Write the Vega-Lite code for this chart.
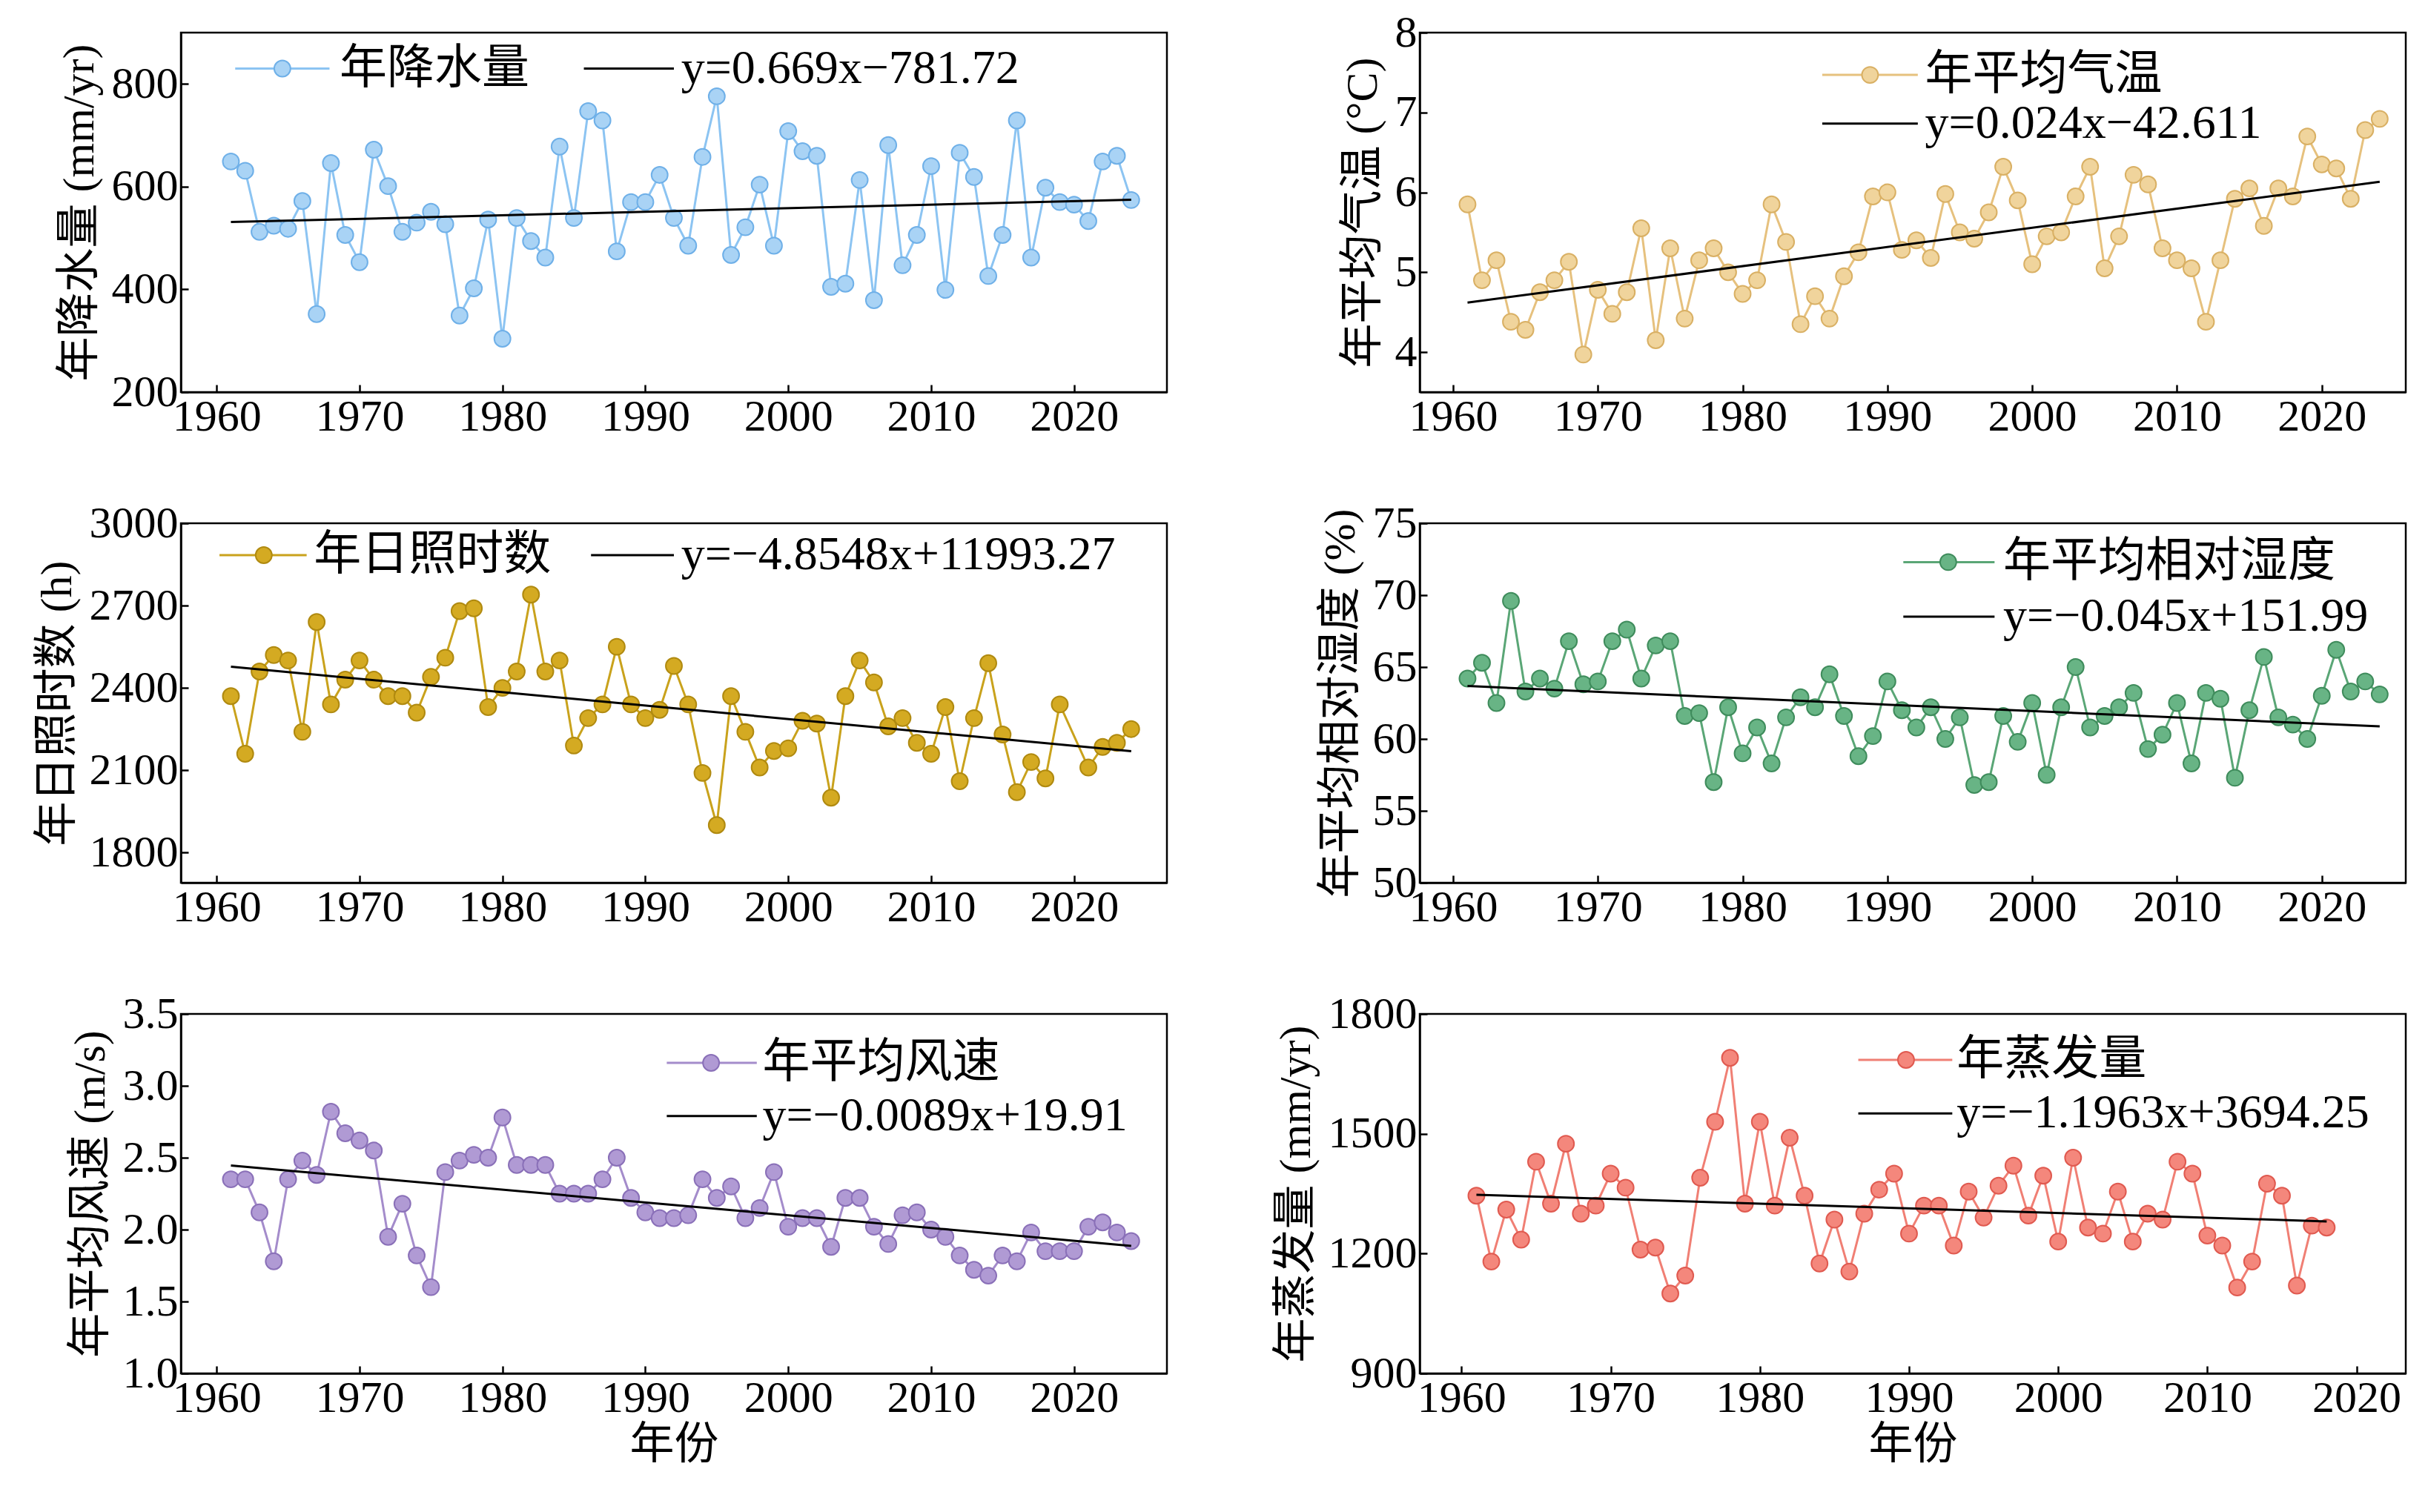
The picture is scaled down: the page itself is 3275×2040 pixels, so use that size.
{"$schema":"https://vega.github.io/schema/vega-lite/v6.json","background":"white","padding":{"left":45,"top":12,"right":5,"bottom":5},
"config":{"font":"Liberation Serif, Noto Sans CJK SC","view":{"stroke":"black","strokeWidth":2.5},
"axis":{"grid":false,"labelFontSize":60,"titleFontSize":60,"titleFontWeight":"normal","labelColor":"black","titleColor":"black","domainColor":"black","tickColor":"black","domainWidth":2.5,"tickWidth":2.5,"tickSize":-10,"labelPadding":14,"titlePadding":12,"titleFont":"Liberation Serif, Noto Sans CJK SC"},
"text":{"fontSize":64,"font":"Liberation Serif, Noto Sans CJK SC"}},
"spacing":{"row":80,"column":140},
"datasets":{
"p1":[{"year":1961,"value":649},{"year":1962,"value":631},{"year":1963,"value":512},{"year":1964,"value":524},{"year":1965,"value":518},{"year":1966,"value":572},{"year":1967,"value":352},{"year":1968,"value":646},{"year":1969,"value":506},{"year":1970,"value":453},{"year":1971,"value":672},{"year":1972,"value":601},{"year":1973,"value":512},{"year":1974,"value":530},{"year":1975,"value":551},{"year":1976,"value":527},{"year":1977,"value":349},{"year":1978,"value":402},{"year":1979,"value":536},{"year":1980,"value":304},{"year":1981,"value":539},{"year":1982,"value":494},{"year":1983,"value":462},{"year":1984,"value":678},{"year":1985,"value":539},{"year":1986,"value":747},{"year":1987,"value":729},{"year":1988,"value":474},{"year":1989,"value":570},{"year":1990,"value":570},{"year":1991,"value":623},{"year":1992,"value":539},{"year":1993,"value":485},{"year":1994,"value":658},{"year":1995,"value":776},{"year":1996,"value":467},{"year":1997,"value":521},{"year":1998,"value":604},{"year":1999,"value":485},{"year":2000,"value":708},{"year":2001,"value":669},{"year":2002,"value":660},{"year":2003,"value":405},{"year":2004,"value":411},{"year":2005,"value":613},{"year":2006,"value":379},{"year":2007,"value":681},{"year":2008,"value":447},{"year":2009,"value":506},{"year":2010,"value":640},{"year":2011,"value":399},{"year":2012,"value":666},{"year":2013,"value":619},{"year":2014,"value":426},{"year":2015,"value":506},{"year":2016,"value":729},{"year":2017,"value":462},{"year":2018,"value":598},{"year":2019,"value":570},{"year":2020,"value":565},{"year":2021,"value":533},{"year":2022,"value":649},{"year":2023,"value":660},{"year":2024,"value":574}],
"p2":[{"year":1961,"value":5.85},{"year":1962,"value":4.9},{"year":1963,"value":5.15},{"year":1964,"value":4.38},{"year":1965,"value":4.28},{"year":1966,"value":4.75},{"year":1967,"value":4.9},{"year":1968,"value":5.13},{"year":1969,"value":3.97},{"year":1970,"value":4.78},{"year":1971,"value":4.48},{"year":1972,"value":4.75},{"year":1973,"value":5.55},{"year":1974,"value":4.15},{"year":1975,"value":5.3},{"year":1976,"value":4.42},{"year":1977,"value":5.15},{"year":1978,"value":5.3},{"year":1979,"value":5.0},{"year":1980,"value":4.73},{"year":1981,"value":4.9},{"year":1982,"value":5.85},{"year":1983,"value":5.38},{"year":1984,"value":4.35},{"year":1985,"value":4.7},{"year":1986,"value":4.42},{"year":1987,"value":4.95},{"year":1988,"value":5.25},{"year":1989,"value":5.95},{"year":1990,"value":6.0},{"year":1991,"value":5.28},{"year":1992,"value":5.4},{"year":1993,"value":5.18},{"year":1994,"value":5.98},{"year":1995,"value":5.5},{"year":1996,"value":5.42},{"year":1997,"value":5.75},{"year":1998,"value":6.32},{"year":1999,"value":5.9},{"year":2000,"value":5.1},{"year":2001,"value":5.45},{"year":2002,"value":5.5},{"year":2003,"value":5.95},{"year":2004,"value":6.32},{"year":2005,"value":5.05},{"year":2006,"value":5.45},{"year":2007,"value":6.22},{"year":2008,"value":6.1},{"year":2009,"value":5.3},{"year":2010,"value":5.15},{"year":2011,"value":5.05},{"year":2012,"value":4.38},{"year":2013,"value":5.15},{"year":2014,"value":5.92},{"year":2015,"value":6.05},{"year":2016,"value":5.58},{"year":2017,"value":6.05},{"year":2018,"value":5.95},{"year":2019,"value":6.7},{"year":2020,"value":6.35},{"year":2021,"value":6.3},{"year":2022,"value":5.92},{"year":2023,"value":6.78},{"year":2024,"value":6.92}],
"p3":[{"year":1961,"value":2370},{"year":1962,"value":2160},{"year":1963,"value":2460},{"year":1964,"value":2520},{"year":1965,"value":2500},{"year":1966,"value":2240},{"year":1967,"value":2640},{"year":1968,"value":2340},{"year":1969,"value":2430},{"year":1970,"value":2500},{"year":1971,"value":2430},{"year":1972,"value":2370},{"year":1973,"value":2370},{"year":1974,"value":2310},{"year":1975,"value":2440},{"year":1976,"value":2510},{"year":1977,"value":2680},{"year":1978,"value":2690},{"year":1979,"value":2330},{"year":1980,"value":2400},{"year":1981,"value":2460},{"year":1982,"value":2740},{"year":1983,"value":2460},{"year":1984,"value":2500},{"year":1985,"value":2190},{"year":1986,"value":2290},{"year":1987,"value":2340},{"year":1988,"value":2550},{"year":1989,"value":2340},{"year":1990,"value":2290},{"year":1991,"value":2320},{"year":1992,"value":2480},{"year":1993,"value":2340},{"year":1994,"value":2090},{"year":1995,"value":1900},{"year":1996,"value":2370},{"year":1997,"value":2240},{"year":1998,"value":2110},{"year":1999,"value":2170},{"year":2000,"value":2180},{"year":2001,"value":2280},{"year":2002,"value":2270},{"year":2003,"value":2000},{"year":2004,"value":2370},{"year":2005,"value":2500},{"year":2006,"value":2420},{"year":2007,"value":2260},{"year":2008,"value":2290},{"year":2009,"value":2200},{"year":2010,"value":2160},{"year":2011,"value":2330},{"year":2012,"value":2060},{"year":2013,"value":2290},{"year":2014,"value":2490},{"year":2015,"value":2230},{"year":2016,"value":2020},{"year":2017,"value":2130},{"year":2018,"value":2070},{"year":2019,"value":2340},{"year":2021,"value":2110},{"year":2022,"value":2185},{"year":2023,"value":2200},{"year":2024,"value":2250}],
"p4":[{"year":1961,"value":64.2},{"year":1962,"value":65.3},{"year":1963,"value":62.5},{"year":1964,"value":69.6},{"year":1965,"value":63.3},{"year":1966,"value":64.2},{"year":1967,"value":63.5},{"year":1968,"value":66.8},{"year":1969,"value":63.8},{"year":1970,"value":64.0},{"year":1971,"value":66.8},{"year":1972,"value":67.6},{"year":1973,"value":64.2},{"year":1974,"value":66.5},{"year":1975,"value":66.8},{"year":1976,"value":61.6},{"year":1977,"value":61.8},{"year":1978,"value":57.0},{"year":1979,"value":62.2},{"year":1980,"value":59.0},{"year":1981,"value":60.8},{"year":1982,"value":58.3},{"year":1983,"value":61.5},{"year":1984,"value":62.9},{"year":1985,"value":62.2},{"year":1986,"value":64.5},{"year":1987,"value":61.6},{"year":1988,"value":58.8},{"year":1989,"value":60.2},{"year":1990,"value":64.0},{"year":1991,"value":62.0},{"year":1992,"value":60.8},{"year":1993,"value":62.2},{"year":1994,"value":60.0},{"year":1995,"value":61.5},{"year":1996,"value":56.8},{"year":1997,"value":57.0},{"year":1998,"value":61.6},{"year":1999,"value":59.8},{"year":2000,"value":62.5},{"year":2001,"value":57.5},{"year":2002,"value":62.2},{"year":2003,"value":65.0},{"year":2004,"value":60.8},{"year":2005,"value":61.6},{"year":2006,"value":62.2},{"year":2007,"value":63.2},{"year":2008,"value":59.3},{"year":2009,"value":60.3},{"year":2010,"value":62.5},{"year":2011,"value":58.3},{"year":2012,"value":63.2},{"year":2013,"value":62.8},{"year":2014,"value":57.3},{"year":2015,"value":62.0},{"year":2016,"value":65.7},{"year":2017,"value":61.5},{"year":2018,"value":61.0},{"year":2019,"value":60.0},{"year":2020,"value":63.0},{"year":2021,"value":66.2},{"year":2022,"value":63.3},{"year":2023,"value":64.0},{"year":2024,"value":63.1}],
"p5":[{"year":1961,"value":2.35},{"year":1962,"value":2.35},{"year":1963,"value":2.12},{"year":1964,"value":1.78},{"year":1965,"value":2.35},{"year":1966,"value":2.48},{"year":1967,"value":2.38},{"year":1968,"value":2.82},{"year":1969,"value":2.67},{"year":1970,"value":2.62},{"year":1971,"value":2.55},{"year":1972,"value":1.95},{"year":1973,"value":2.18},{"year":1974,"value":1.82},{"year":1975,"value":1.6},{"year":1976,"value":2.4},{"year":1977,"value":2.48},{"year":1978,"value":2.52},{"year":1979,"value":2.5},{"year":1980,"value":2.78},{"year":1981,"value":2.45},{"year":1982,"value":2.45},{"year":1983,"value":2.45},{"year":1984,"value":2.25},{"year":1985,"value":2.25},{"year":1986,"value":2.25},{"year":1987,"value":2.35},{"year":1988,"value":2.5},{"year":1989,"value":2.22},{"year":1990,"value":2.12},{"year":1991,"value":2.08},{"year":1992,"value":2.08},{"year":1993,"value":2.1},{"year":1994,"value":2.35},{"year":1995,"value":2.22},{"year":1996,"value":2.3},{"year":1997,"value":2.08},{"year":1998,"value":2.15},{"year":1999,"value":2.4},{"year":2000,"value":2.02},{"year":2001,"value":2.08},{"year":2002,"value":2.08},{"year":2003,"value":1.88},{"year":2004,"value":2.22},{"year":2005,"value":2.22},{"year":2006,"value":2.02},{"year":2007,"value":1.9},{"year":2008,"value":2.1},{"year":2009,"value":2.12},{"year":2010,"value":2.0},{"year":2011,"value":1.95},{"year":2012,"value":1.82},{"year":2013,"value":1.72},{"year":2014,"value":1.68},{"year":2015,"value":1.82},{"year":2016,"value":1.78},{"year":2017,"value":1.98},{"year":2018,"value":1.85},{"year":2019,"value":1.85},{"year":2020,"value":1.85},{"year":2021,"value":2.02},{"year":2022,"value":2.05},{"year":2023,"value":1.98},{"year":2024,"value":1.92}],
"p6":[{"year":1961,"value":1345},{"year":1962,"value":1180},{"year":1963,"value":1310},{"year":1964,"value":1235},{"year":1965,"value":1430},{"year":1966,"value":1325},{"year":1967,"value":1475},{"year":1968,"value":1300},{"year":1969,"value":1320},{"year":1970,"value":1400},{"year":1971,"value":1365},{"year":1972,"value":1210},{"year":1973,"value":1215},{"year":1974,"value":1100},{"year":1975,"value":1145},{"year":1976,"value":1390},{"year":1977,"value":1530},{"year":1978,"value":1690},{"year":1979,"value":1325},{"year":1980,"value":1530},{"year":1981,"value":1320},{"year":1982,"value":1490},{"year":1983,"value":1345},{"year":1984,"value":1175},{"year":1985,"value":1285},{"year":1986,"value":1155},{"year":1987,"value":1300},{"year":1988,"value":1360},{"year":1989,"value":1400},{"year":1990,"value":1250},{"year":1991,"value":1320},{"year":1992,"value":1320},{"year":1993,"value":1220},{"year":1994,"value":1355},{"year":1995,"value":1290},{"year":1996,"value":1370},{"year":1997,"value":1420},{"year":1998,"value":1295},{"year":1999,"value":1395},{"year":2000,"value":1230},{"year":2001,"value":1440},{"year":2002,"value":1265},{"year":2003,"value":1250},{"year":2004,"value":1355},{"year":2005,"value":1230},{"year":2006,"value":1300},{"year":2007,"value":1285},{"year":2008,"value":1430},{"year":2009,"value":1400},{"year":2010,"value":1245},{"year":2011,"value":1220},{"year":2012,"value":1115},{"year":2013,"value":1180},{"year":2014,"value":1375},{"year":2015,"value":1345},{"year":2016,"value":1120},{"year":2017,"value":1270},{"year":2018,"value":1265}],
"l1":[{"x":1961.3,"x2":1967.9,"px":1964.6,"tx":1968.6,"y":830,"kind":"s","label":"年降水量"},{"x":1985.7,"x2":1992,"tx":1992.5,"y":830,"kind":"r","label":"y=0.669x−781.72"}],
"l2":[{"x":1985.5,"x2":1992.1,"px":1988.8,"tx":1992.6,"y":7.47,"kind":"s","label":"年平均气温"},{"x":1985.5,"x2":1992.1,"tx":1992.6,"y":6.86,"kind":"r","label":"y=0.024x−42.611"}],
"l3":[{"x":1960.2,"x2":1966.3,"px":1963.3,"tx":1966.8,"y":2884,"kind":"s","label":"年日照时数"},{"x":1986.2,"x2":1992,"tx":1992.5,"y":2884,"kind":"r","label":"y=−4.8548x+11993.27"}],
"l4":[{"x":1991.1,"x2":1997.4,"px":1994.2,"tx":1998,"y":72.3,"kind":"s","label":"年平均相对湿度"},{"x":1991.1,"x2":1997.4,"tx":1998,"y":68.5,"kind":"r","label":"y=−0.045x+151.99"}],
"l5":[{"x":1991.5,"x2":1997.8,"px":1994.6,"tx":1998.2,"y":3.16,"kind":"s","label":"年平均风速"},{"x":1991.5,"x2":1997.8,"tx":1998.2,"y":2.79,"kind":"r","label":"y=−0.0089x+19.91"}],
"l6":[{"x":1986.6,"x2":1992.9,"px":1989.8,"tx":1993.2,"y":1685,"kind":"s","label":"年蒸发量"},{"x":1986.6,"x2":1992.9,"tx":1993.2,"y":1551,"kind":"r","label":"y=−1.1963x+3694.25"}]
},
"columns":2,
"concat":[
{"width":1330,"height":485,"layer":[
{"data":{"name":"p1"},"mark":{"type":"line","color":"#8cc4f2","strokeWidth":3},"encoding":{"x":{"field":"year","type":"quantitative","title":null,"scale":{"domain":[1957.5,2026.5],"nice":false},"axis":{"values":[1960,1970,1980,1990,2000,2010,2020],"format":"d"}},"y":{"field":"value","type":"quantitative","title":"年降水量 (mm/yr)","scale":{"domain":[200,900],"nice":false},"axis":{"values":[200,400,600,800],"format":"d"}}}},
{"data":{"name":"p1"},"mark":{"type":"point","filled":true,"fill":"#a9d3f5","stroke":"#6fb0e8","strokeWidth":2,"opacity":1,"size":480},"encoding":{"x":{"field":"year","type":"quantitative","title":null},"y":{"field":"value","type":"quantitative","title":"年降水量 (mm/yr)"}}},
{"data":{"name":"p1"},"transform":[{"regression":"value","on":"year"}],"mark":{"type":"line","color":"black","strokeWidth":3},"encoding":{"x":{"field":"year","type":"quantitative","title":null},"y":{"field":"value","type":"quantitative","title":"年降水量 (mm/yr)"}}},
{"data":{"name":"l1"},"transform":[{"filter":"datum.kind=='s'"}],"mark":{"type":"rule","color":"#8cc4f2","strokeWidth":3},"encoding":{"x":{"field":"x","type":"quantitative","title":null},"x2":{"field":"x2"},"y":{"field":"y","type":"quantitative","title":"年降水量 (mm/yr)"}}},
{"data":{"name":"l1"},"transform":[{"filter":"datum.kind=='s'"}],"mark":{"type":"point","filled":true,"fill":"#a9d3f5","stroke":"#6fb0e8","strokeWidth":2,"opacity":1,"size":480},"encoding":{"x":{"field":"px","type":"quantitative","title":null},"y":{"field":"y","type":"quantitative","title":"年降水量 (mm/yr)"}}},
{"data":{"name":"l1"},"transform":[{"filter":"datum.kind=='r'"}],"mark":{"type":"rule","color":"black","strokeWidth":3},"encoding":{"x":{"field":"x","type":"quantitative","title":null},"x2":{"field":"x2"},"y":{"field":"y","type":"quantitative","title":"年降水量 (mm/yr)"}}},
{"data":{"name":"l1"},"mark":{"type":"text","align":"left","baseline":"middle"},"encoding":{"x":{"field":"tx","type":"quantitative","title":null},"y":{"field":"y","type":"quantitative","title":"年降水量 (mm/yr)"},"text":{"field":"label"}}}
]},
{"width":1330,"height":485,"layer":[
{"data":{"name":"p2"},"mark":{"type":"line","color":"#e6c17e","strokeWidth":3},"encoding":{"x":{"field":"year","type":"quantitative","title":null,"scale":{"domain":[1957.7,2025.8],"nice":false},"axis":{"values":[1960,1970,1980,1990,2000,2010,2020],"format":"d"}},"y":{"field":"value","type":"quantitative","title":"年平均气温 (°C)","scale":{"domain":[3.5,8],"nice":false},"axis":{"values":[4,5,6,7,8],"format":"d"}}}},
{"data":{"name":"p2"},"mark":{"type":"point","filled":true,"fill":"#f0d49c","stroke":"#d9b064","strokeWidth":2,"opacity":1,"size":480},"encoding":{"x":{"field":"year","type":"quantitative","title":null},"y":{"field":"value","type":"quantitative","title":"年平均气温 (°C)"}}},
{"data":{"name":"p2"},"transform":[{"regression":"value","on":"year"}],"mark":{"type":"line","color":"black","strokeWidth":3},"encoding":{"x":{"field":"year","type":"quantitative","title":null},"y":{"field":"value","type":"quantitative","title":"年平均气温 (°C)"}}},
{"data":{"name":"l2"},"transform":[{"filter":"datum.kind=='s'"}],"mark":{"type":"rule","color":"#e6c17e","strokeWidth":3},"encoding":{"x":{"field":"x","type":"quantitative","title":null},"x2":{"field":"x2"},"y":{"field":"y","type":"quantitative","title":"年平均气温 (°C)"}}},
{"data":{"name":"l2"},"transform":[{"filter":"datum.kind=='s'"}],"mark":{"type":"point","filled":true,"fill":"#f0d49c","stroke":"#d9b064","strokeWidth":2,"opacity":1,"size":480},"encoding":{"x":{"field":"px","type":"quantitative","title":null},"y":{"field":"y","type":"quantitative","title":"年平均气温 (°C)"}}},
{"data":{"name":"l2"},"transform":[{"filter":"datum.kind=='r'"}],"mark":{"type":"rule","color":"black","strokeWidth":3},"encoding":{"x":{"field":"x","type":"quantitative","title":null},"x2":{"field":"x2"},"y":{"field":"y","type":"quantitative","title":"年平均气温 (°C)"}}},
{"data":{"name":"l2"},"mark":{"type":"text","align":"left","baseline":"middle"},"encoding":{"x":{"field":"tx","type":"quantitative","title":null},"y":{"field":"y","type":"quantitative","title":"年平均气温 (°C)"},"text":{"field":"label"}}}
]},
{"width":1330,"height":485,"layer":[
{"data":{"name":"p3"},"mark":{"type":"line","color":"#c9a21c","strokeWidth":3},"encoding":{"x":{"field":"year","type":"quantitative","title":null,"scale":{"domain":[1957.5,2026.5],"nice":false},"axis":{"values":[1960,1970,1980,1990,2000,2010,2020],"format":"d"}},"y":{"field":"value","type":"quantitative","title":"年日照时数 (h)","scale":{"domain":[1690,3000],"nice":false},"axis":{"values":[1800,2100,2400,2700,3000],"format":"d"}}}},
{"data":{"name":"p3"},"mark":{"type":"point","filled":true,"fill":"#d4aa22","stroke":"#b08a10","strokeWidth":2,"opacity":1,"size":480},"encoding":{"x":{"field":"year","type":"quantitative","title":null},"y":{"field":"value","type":"quantitative","title":"年日照时数 (h)"}}},
{"data":{"name":"p3"},"transform":[{"regression":"value","on":"year"}],"mark":{"type":"line","color":"black","strokeWidth":3},"encoding":{"x":{"field":"year","type":"quantitative","title":null},"y":{"field":"value","type":"quantitative","title":"年日照时数 (h)"}}},
{"data":{"name":"l3"},"transform":[{"filter":"datum.kind=='s'"}],"mark":{"type":"rule","color":"#c9a21c","strokeWidth":3},"encoding":{"x":{"field":"x","type":"quantitative","title":null},"x2":{"field":"x2"},"y":{"field":"y","type":"quantitative","title":"年日照时数 (h)"}}},
{"data":{"name":"l3"},"transform":[{"filter":"datum.kind=='s'"}],"mark":{"type":"point","filled":true,"fill":"#d4aa22","stroke":"#b08a10","strokeWidth":2,"opacity":1,"size":480},"encoding":{"x":{"field":"px","type":"quantitative","title":null},"y":{"field":"y","type":"quantitative","title":"年日照时数 (h)"}}},
{"data":{"name":"l3"},"transform":[{"filter":"datum.kind=='r'"}],"mark":{"type":"rule","color":"black","strokeWidth":3},"encoding":{"x":{"field":"x","type":"quantitative","title":null},"x2":{"field":"x2"},"y":{"field":"y","type":"quantitative","title":"年日照时数 (h)"}}},
{"data":{"name":"l3"},"mark":{"type":"text","align":"left","baseline":"middle"},"encoding":{"x":{"field":"tx","type":"quantitative","title":null},"y":{"field":"y","type":"quantitative","title":"年日照时数 (h)"},"text":{"field":"label"}}}
]},
{"width":1330,"height":485,"layer":[
{"data":{"name":"p4"},"mark":{"type":"line","color":"#5aa676","strokeWidth":3},"encoding":{"x":{"field":"year","type":"quantitative","title":null,"scale":{"domain":[1957.7,2025.8],"nice":false},"axis":{"values":[1960,1970,1980,1990,2000,2010,2020],"format":"d"}},"y":{"field":"value","type":"quantitative","title":"年平均相对湿度 (%)","scale":{"domain":[50,75],"nice":false},"axis":{"values":[50,55,60,65,70,75],"format":"d"}}}},
{"data":{"name":"p4"},"mark":{"type":"point","filled":true,"fill":"#68b485","stroke":"#3f8c5c","strokeWidth":2,"opacity":1,"size":480},"encoding":{"x":{"field":"year","type":"quantitative","title":null},"y":{"field":"value","type":"quantitative","title":"年平均相对湿度 (%)"}}},
{"data":{"name":"p4"},"transform":[{"regression":"value","on":"year"}],"mark":{"type":"line","color":"black","strokeWidth":3},"encoding":{"x":{"field":"year","type":"quantitative","title":null},"y":{"field":"value","type":"quantitative","title":"年平均相对湿度 (%)"}}},
{"data":{"name":"l4"},"transform":[{"filter":"datum.kind=='s'"}],"mark":{"type":"rule","color":"#5aa676","strokeWidth":3},"encoding":{"x":{"field":"x","type":"quantitative","title":null},"x2":{"field":"x2"},"y":{"field":"y","type":"quantitative","title":"年平均相对湿度 (%)"}}},
{"data":{"name":"l4"},"transform":[{"filter":"datum.kind=='s'"}],"mark":{"type":"point","filled":true,"fill":"#68b485","stroke":"#3f8c5c","strokeWidth":2,"opacity":1,"size":480},"encoding":{"x":{"field":"px","type":"quantitative","title":null},"y":{"field":"y","type":"quantitative","title":"年平均相对湿度 (%)"}}},
{"data":{"name":"l4"},"transform":[{"filter":"datum.kind=='r'"}],"mark":{"type":"rule","color":"black","strokeWidth":3},"encoding":{"x":{"field":"x","type":"quantitative","title":null},"x2":{"field":"x2"},"y":{"field":"y","type":"quantitative","title":"年平均相对湿度 (%)"}}},
{"data":{"name":"l4"},"mark":{"type":"text","align":"left","baseline":"middle"},"encoding":{"x":{"field":"tx","type":"quantitative","title":null},"y":{"field":"y","type":"quantitative","title":"年平均相对湿度 (%)"},"text":{"field":"label"}}}
]},
{"width":1330,"height":485,"layer":[
{"data":{"name":"p5"},"mark":{"type":"line","color":"#a48ccb","strokeWidth":3},"encoding":{"x":{"field":"year","type":"quantitative","title":"年份","scale":{"domain":[1957.5,2026.5],"nice":false},"axis":{"values":[1960,1970,1980,1990,2000,2010,2020],"format":"d","titlePadding":4}},"y":{"field":"value","type":"quantitative","title":"年平均风速 (m/s)","scale":{"domain":[1,3.5],"nice":false},"axis":{"values":[1,1.5,2,2.5,3,3.5],"format":".1f"}}}},
{"data":{"name":"p5"},"mark":{"type":"point","filled":true,"fill":"#b09ad4","stroke":"#8a70b8","strokeWidth":2,"opacity":1,"size":480},"encoding":{"x":{"field":"year","type":"quantitative","title":"年份"},"y":{"field":"value","type":"quantitative","title":"年平均风速 (m/s)"}}},
{"data":{"name":"p5"},"transform":[{"regression":"value","on":"year"}],"mark":{"type":"line","color":"black","strokeWidth":3},"encoding":{"x":{"field":"year","type":"quantitative","title":"年份"},"y":{"field":"value","type":"quantitative","title":"年平均风速 (m/s)"}}},
{"data":{"name":"l5"},"transform":[{"filter":"datum.kind=='s'"}],"mark":{"type":"rule","color":"#a48ccb","strokeWidth":3},"encoding":{"x":{"field":"x","type":"quantitative","title":"年份"},"x2":{"field":"x2"},"y":{"field":"y","type":"quantitative","title":"年平均风速 (m/s)"}}},
{"data":{"name":"l5"},"transform":[{"filter":"datum.kind=='s'"}],"mark":{"type":"point","filled":true,"fill":"#b09ad4","stroke":"#8a70b8","strokeWidth":2,"opacity":1,"size":480},"encoding":{"x":{"field":"px","type":"quantitative","title":"年份"},"y":{"field":"y","type":"quantitative","title":"年平均风速 (m/s)"}}},
{"data":{"name":"l5"},"transform":[{"filter":"datum.kind=='r'"}],"mark":{"type":"rule","color":"black","strokeWidth":3},"encoding":{"x":{"field":"x","type":"quantitative","title":"年份"},"x2":{"field":"x2"},"y":{"field":"y","type":"quantitative","title":"年平均风速 (m/s)"}}},
{"data":{"name":"l5"},"mark":{"type":"text","align":"left","baseline":"middle"},"encoding":{"x":{"field":"tx","type":"quantitative","title":"年份"},"y":{"field":"y","type":"quantitative","title":"年平均风速 (m/s)"},"text":{"field":"label"}}}
]},
{"width":1330,"height":485,"layer":[
{"data":{"name":"p6"},"mark":{"type":"line","color":"#f07f74","strokeWidth":3},"encoding":{"x":{"field":"year","type":"quantitative","title":"年份","scale":{"domain":[1957.2,2023.3],"nice":false},"axis":{"values":[1960,1970,1980,1990,2000,2010,2020],"format":"d","titlePadding":4}},"y":{"field":"value","type":"quantitative","title":"年蒸发量 (mm/yr)","scale":{"domain":[900,1800],"nice":false},"axis":{"values":[900,1200,1500,1800],"format":"d"}}}},
{"data":{"name":"p6"},"mark":{"type":"point","filled":true,"fill":"#f4877c","stroke":"#e05a50","strokeWidth":2,"opacity":1,"size":480},"encoding":{"x":{"field":"year","type":"quantitative","title":"年份"},"y":{"field":"value","type":"quantitative","title":"年蒸发量 (mm/yr)"}}},
{"data":{"name":"p6"},"transform":[{"regression":"value","on":"year"}],"mark":{"type":"line","color":"black","strokeWidth":3},"encoding":{"x":{"field":"year","type":"quantitative","title":"年份"},"y":{"field":"value","type":"quantitative","title":"年蒸发量 (mm/yr)"}}},
{"data":{"name":"l6"},"transform":[{"filter":"datum.kind=='s'"}],"mark":{"type":"rule","color":"#f07f74","strokeWidth":3},"encoding":{"x":{"field":"x","type":"quantitative","title":"年份"},"x2":{"field":"x2"},"y":{"field":"y","type":"quantitative","title":"年蒸发量 (mm/yr)"}}},
{"data":{"name":"l6"},"transform":[{"filter":"datum.kind=='s'"}],"mark":{"type":"point","filled":true,"fill":"#f4877c","stroke":"#e05a50","strokeWidth":2,"opacity":1,"size":480},"encoding":{"x":{"field":"px","type":"quantitative","title":"年份"},"y":{"field":"y","type":"quantitative","title":"年蒸发量 (mm/yr)"}}},
{"data":{"name":"l6"},"transform":[{"filter":"datum.kind=='r'"}],"mark":{"type":"rule","color":"black","strokeWidth":3},"encoding":{"x":{"field":"x","type":"quantitative","title":"年份"},"x2":{"field":"x2"},"y":{"field":"y","type":"quantitative","title":"年蒸发量 (mm/yr)"}}},
{"data":{"name":"l6"},"mark":{"type":"text","align":"left","baseline":"middle"},"encoding":{"x":{"field":"tx","type":"quantitative","title":"年份"},"y":{"field":"y","type":"quantitative","title":"年蒸发量 (mm/yr)"},"text":{"field":"label"}}}
]}
]}
